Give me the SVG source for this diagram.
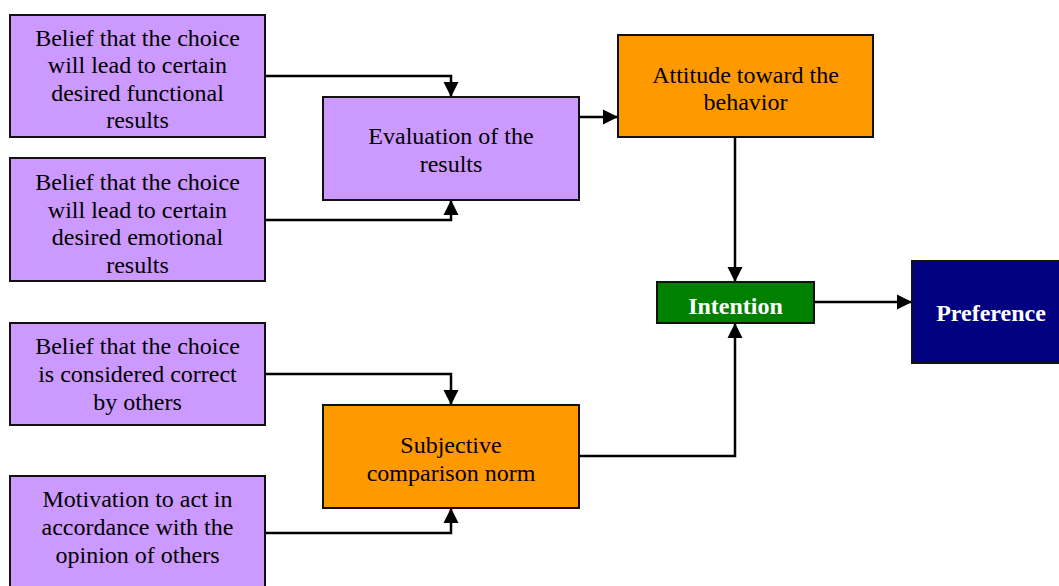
<svg xmlns="http://www.w3.org/2000/svg" width="1059" height="586" viewBox="0 0 1059 586">
<defs>
<marker id="arr" markerUnits="userSpaceOnUse" markerWidth="18" markerHeight="18" viewBox="0 0 18 18" refX="16" refY="9" orient="auto">
<path d="M1,1.5 L16,9 L1,16.5 Z" fill="#000"/>
</marker>
</defs>
<style>
.box{stroke:#111;stroke-width:2}
.p{fill:#CC99FF}
.o{fill:#FF9900}
.g{fill:#008000}
.n{fill:#000080}
text{font-family:"Liberation Serif","Times New Roman",serif;font-size:24px;text-anchor:middle;fill:#000}
text.w{fill:#fff;font-weight:bold}
.c{fill:none;stroke:#000;stroke-width:2.5}
</style>
<rect width="1059" height="586" fill="#fff"/>
<g id="connectors">
<polyline class="c" points="265,76 451,76 451,97" marker-end="url(#arr)"/>
<polyline class="c" points="265,220 451,220 451,200" marker-end="url(#arr)"/>
<polyline class="c" points="579,117 618,117" marker-end="url(#arr)"/>
<polyline class="c" points="735,137 735,282" marker-end="url(#arr)"/>
<polyline class="c" points="814,302 912,302" marker-end="url(#arr)"/>
<polyline class="c" points="265,374 451,374 451,405" marker-end="url(#arr)"/>
<polyline class="c" points="265,533 451,533 451,508" marker-end="url(#arr)"/>
<polyline class="c" points="579,456 735,456 735,323" marker-end="url(#arr)"/>
</g>
<g id="n1">
<rect class="box p" x="10" y="15" width="255" height="122"/>
<text x="137.5" y="45.7">Belief that the choice</text>
<text x="137.5" y="73.3">will lead to certain</text>
<text x="137.5" y="100.7">desired functional</text>
<text x="137.5" y="128.3">results</text>
</g>
<g id="n2">
<rect class="box p" x="10" y="158" width="255" height="123"/>
<text x="137.5" y="190">Belief that the choice</text>
<text x="137.5" y="217.5">will lead to certain</text>
<text x="137.5" y="245">desired emotional</text>
<text x="137.5" y="272.5">results</text>
</g>
<g id="n3">
<rect class="box p" x="10" y="323" width="255" height="102"/>
<text x="137.5" y="353.5">Belief that the choice</text>
<text x="137.5" y="381.5">is considered correct</text>
<text x="137.5" y="410">by others</text>
</g>
<g id="n4">
<rect class="box p" x="10" y="476" width="255" height="124"/>
<text x="137.5" y="507">Motivation to act in</text>
<text x="137.5" y="535">accordance with the</text>
<text x="137.5" y="563">opinion of others</text>
</g>
<g id="eval">
<rect class="box p" x="323" y="97" width="256" height="103"/>
<text x="451" y="144">Evaluation of the</text>
<text x="451" y="171.5">results</text>
</g>
<g id="subj">
<rect class="box o" x="323" y="405" width="256" height="103"/>
<text x="451" y="453">Subjective</text>
<text x="451" y="480.5">comparison norm</text>
</g>
<g id="attitude">
<rect class="box o" x="618" y="35" width="255" height="102"/>
<text x="745.5" y="83">Attitude toward the</text>
<text x="745.5" y="110">behavior</text>
</g>
<g id="intention">
<rect class="box g" x="657" y="282" width="157" height="41"/>
<text class="w" x="735.5" y="314">Intention</text>
</g>
<g id="preference">
<rect class="box n" x="912" y="261" width="158" height="102"/>
<text class="w" x="991" y="321">Preference</text>
</g>
</svg>
